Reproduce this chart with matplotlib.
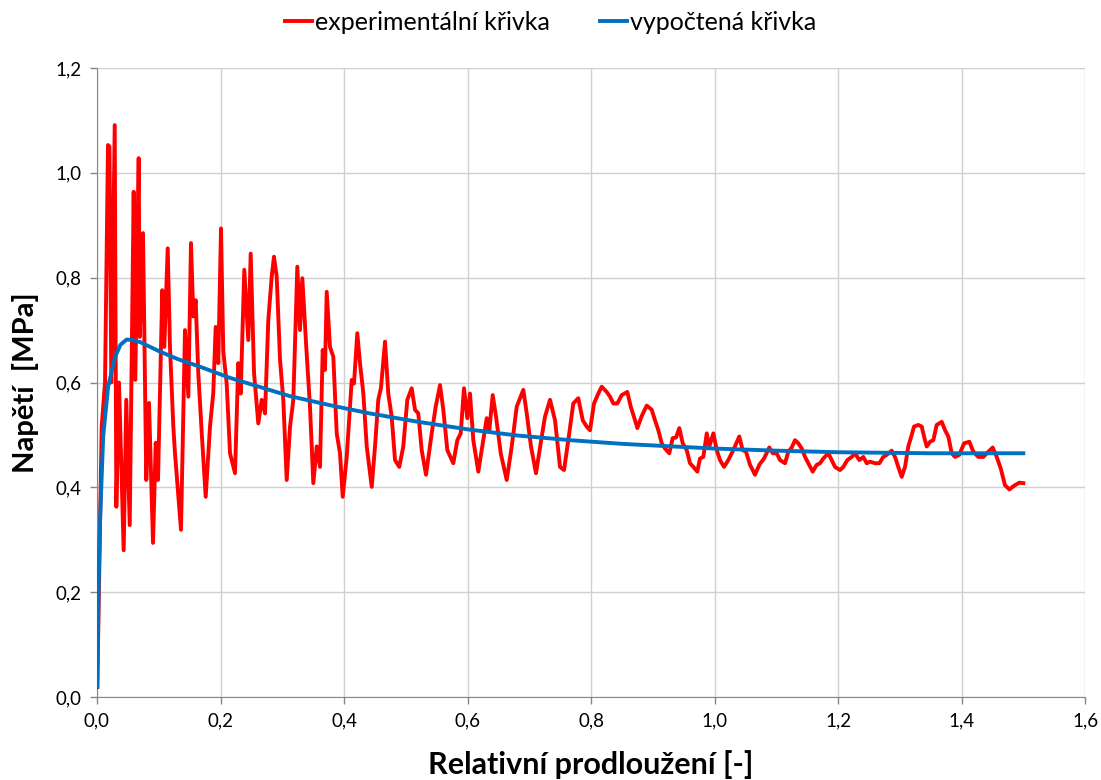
import numpy as np
import matplotlib.pyplot as plt
from matplotlib.ticker import FuncFormatter

plt.rcParams['font.family'] = ['Lato', 'DejaVu Sans']

# experimentální křivka (relativní prodloužení, napětí v MPa)
exp_x = [0.0005, 0.0024, 0.0076, 0.013, 0.0178, 0.0202, 0.0232, 0.0287, 0.0313, 0.0356,
         0.0432, 0.0474, 0.053, 0.0594, 0.062, 0.0675, 0.0692, 0.0745, 0.0798, 0.0842,
         0.0907, 0.0951, 0.0988, 0.1057, 0.109, 0.1145, 0.1182, 0.1236, 0.1263, 0.136,
         0.1425, 0.1479, 0.1522, 0.156, 0.1598, 0.164, 0.1696, 0.176, 0.183, 0.1883,
         0.1922, 0.1964, 0.2008, 0.2045, 0.21, 0.2154, 0.2235, 0.2288, 0.2327, 0.2385,
         0.245, 0.2489, 0.2543, 0.2612, 0.2667, 0.2721, 0.2774, 0.2829, 0.2866, 0.291,
         0.2964, 0.3017, 0.3072, 0.3126, 0.3179, 0.3244, 0.3287, 0.3325, 0.3385, 0.3449,
         0.3503, 0.3558, 0.3611, 0.3655, 0.3692, 0.372, 0.3773, 0.3827, 0.3882, 0.3935,
         0.3979, 0.4044, 0.4125, 0.4162, 0.4215, 0.4259, 0.4313, 0.4368, 0.4449, 0.4502,
         0.4555, 0.4599, 0.4664, 0.4717, 0.4772, 0.4826, 0.4895, 0.496, 0.5025, 0.5096,
         0.515, 0.5203, 0.5258, 0.5328, 0.542, 0.5485, 0.5555, 0.5608, 0.5673, 0.577,
         0.5835, 0.589, 0.5943, 0.5997, 0.604, 0.6094, 0.6175, 0.6256, 0.6311, 0.6353,
         0.6408, 0.6462, 0.6538, 0.6635, 0.6716, 0.6797, 0.6904, 0.6959, 0.7028, 0.7109,
         0.7185, 0.7255, 0.7336, 0.7417, 0.7498, 0.7563, 0.7632, 0.7713, 0.7794, 0.7866,
         0.793, 0.7984, 0.8049, 0.8118, 0.8173, 0.8254, 0.8308, 0.8361, 0.8426, 0.8497,
         0.8588, 0.8643, 0.8713, 0.875, 0.8821, 0.8902, 0.8983, 0.9036, 0.909, 0.9145,
         0.9198, 0.9268, 0.9323, 0.9377, 0.943, 0.9485, 0.955, 0.9603, 0.9657, 0.9721,
         0.9765, 0.9819, 0.9874, 0.9916, 0.9981, 1.0036, 1.0089, 1.0154, 1.0223, 1.0304,
         1.0401, 1.0456, 1.051, 1.0575, 1.0656, 1.0725, 1.0802, 1.0887, 1.0943, 1.1007,
         1.1061, 1.1142, 1.1195, 1.125, 1.1304, 1.1357, 1.1412, 1.1466, 1.1519, 1.159,
         1.1655, 1.1709, 1.1762, 1.1843, 1.1898, 1.1951, 1.2032, 1.2086, 1.2151, 1.2222,
         1.2275, 1.2345, 1.241, 1.2465, 1.2518, 1.2599, 1.2669, 1.2733, 1.2788, 1.2869,
         1.2923, 1.2976, 1.3031, 1.3085, 1.3138, 1.3193, 1.3231, 1.33, 1.3355, 1.3393,
         1.3436, 1.349, 1.3543, 1.3598, 1.3679, 1.3733, 1.3786, 1.3841, 1.3895, 1.3964,
         1.4041, 1.4126, 1.4191, 1.4272, 1.4353, 1.4434, 1.4505, 1.457, 1.4635, 1.4704,
         1.4775, 1.485, 1.4936, 1.5001]
exp_y = [0.019, 0.15, 0.516, 0.6, 1.053, 1.05, 0.6, 1.091, 0.363, 0.6,
         0.28, 0.567, 0.328, 0.964, 0.605, 1.028, 0.687, 0.885, 0.414, 0.561,
         0.294, 0.485, 0.414, 0.776, 0.668, 0.856, 0.668, 0.516, 0.465, 0.319,
         0.7, 0.573, 0.866, 0.726, 0.757, 0.618, 0.504, 0.382, 0.516, 0.58,
         0.706, 0.637, 0.894, 0.66, 0.598, 0.465, 0.427, 0.637, 0.579, 0.815,
         0.681, 0.846, 0.618, 0.522, 0.567, 0.541, 0.719, 0.802, 0.84, 0.802,
         0.643, 0.567, 0.414, 0.516, 0.567, 0.821, 0.7, 0.799, 0.675, 0.554,
         0.408, 0.478, 0.439, 0.662, 0.624, 0.773, 0.668, 0.649, 0.503, 0.465,
         0.382, 0.458, 0.605, 0.598, 0.694, 0.637, 0.579, 0.478, 0.401, 0.478,
         0.567, 0.59, 0.678, 0.579, 0.535, 0.452, 0.439, 0.478, 0.567, 0.589,
         0.548, 0.541, 0.471, 0.424, 0.503, 0.554, 0.595, 0.548, 0.471, 0.446,
         0.49, 0.503, 0.589, 0.532, 0.579, 0.49, 0.43, 0.49, 0.532, 0.509,
         0.576, 0.535, 0.465, 0.414, 0.478, 0.554, 0.586, 0.541, 0.478, 0.427,
         0.484, 0.535, 0.567, 0.528, 0.439, 0.433, 0.49, 0.56, 0.57, 0.528,
         0.516, 0.509, 0.56, 0.579, 0.592, 0.582, 0.573, 0.56, 0.56, 0.576,
         0.582, 0.554, 0.528, 0.513, 0.536, 0.556, 0.548, 0.528, 0.509, 0.484,
         0.474, 0.465, 0.494, 0.495, 0.513, 0.484, 0.471, 0.446, 0.439, 0.43,
         0.455, 0.458, 0.503, 0.478, 0.503, 0.471, 0.452, 0.439, 0.452, 0.471,
         0.497, 0.471, 0.468, 0.443, 0.424, 0.443, 0.455, 0.476, 0.465, 0.465,
         0.452, 0.446, 0.468, 0.476, 0.49, 0.484, 0.474, 0.458, 0.446, 0.43,
         0.443, 0.446, 0.455, 0.465, 0.452, 0.439, 0.433, 0.439, 0.452, 0.458,
         0.465, 0.452, 0.458, 0.446, 0.449, 0.446, 0.446, 0.458, 0.462, 0.47,
         0.458, 0.439, 0.42, 0.439, 0.478, 0.5, 0.516, 0.519, 0.516, 0.497,
         0.478, 0.487, 0.49, 0.519, 0.525, 0.509, 0.497, 0.465, 0.458, 0.462,
         0.484, 0.487, 0.468, 0.458, 0.458, 0.468, 0.476, 0.458, 0.436, 0.404,
         0.396, 0.403, 0.409, 0.408]

# vypočtená křivka
calc_x = [0.0005, 0.0025, 0.005, 0.01, 0.018, 0.029, 0.038, 0.048, 0.058, 0.07,
          0.086, 0.1, 0.13, 0.167, 0.215, 0.24, 0.3125, 0.38, 0.442, 0.52,
          0.604, 0.68, 0.766, 0.85, 1.0, 1.1, 1.2, 1.35, 1.5]
calc_y = [0.02, 0.2, 0.338, 0.497, 0.592, 0.648, 0.672, 0.682, 0.681, 0.677,
          0.668, 0.66, 0.645, 0.63, 0.609, 0.6, 0.574, 0.556, 0.541, 0.525,
          0.51, 0.499, 0.49, 0.483, 0.474, 0.47, 0.467, 0.465, 0.465]

fig = plt.figure(figsize=(11.01, 7.8), dpi=100)
ax = fig.add_axes([0.0881, 0.1064, 0.8974, 0.8064])

ax.plot(exp_x, exp_y, color='#ff0000', lw=2.8, label='experimentální křivka',
        zorder=3, solid_joinstyle='round')
ax.plot(calc_x, calc_y, color='#0070c0', lw=2.8, label='vypočtená křivka',
        zorder=4, solid_joinstyle='round')

ax.set_xlim(0, 1.6)
ax.set_ylim(0, 1.2)
ax.set_xticks(np.arange(0, 1.61, 0.2))
ax.set_yticks(np.arange(0, 1.21, 0.2))
fmt = FuncFormatter(lambda v, p: f'{v:.1f}'.replace('.', ','))
ax.xaxis.set_major_formatter(fmt)
ax.yaxis.set_major_formatter(fmt)
ax.tick_params(labelsize=13.5, color='#868686', length=5, width=1, pad=6)

ax.grid(True, color='#d0d0d0', lw=1)
ax.set_axisbelow(True)
for s in ['top', 'right']:
    ax.spines[s].set_visible(False)
for s in ['left', 'bottom']:
    ax.spines[s].set_color('#868686')

ax.set_xlabel('Relativní prodloužení [-]', fontsize=22, fontweight='bold', labelpad=15)
ax.set_ylabel('Napětí  [MPa]', fontsize=21, fontweight='bold', labelpad=12)

fig.legend(loc='upper center', bbox_to_anchor=(0.5, 1.015), ncol=2, frameon=False,
           fontsize=18, handlelength=1.1, handletextpad=0.1, columnspacing=2.0)

fig.savefig('out.png', dpi=100)
